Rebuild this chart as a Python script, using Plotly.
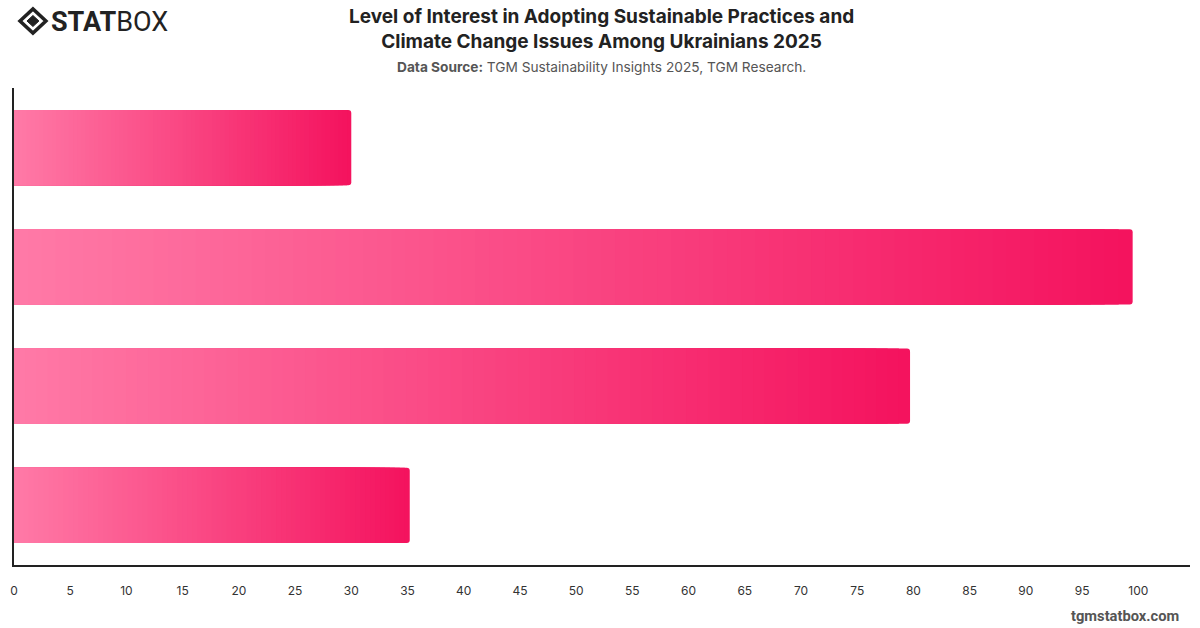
import plotly.graph_objects as go

categories = ["Category A", "Category B", "Category C", "Category D"]
values = [30.0, 99.5, 79.7, 35.2]
tick_vals = list(range(0, 101, 5))

title_line1 = "Level of Interest in Adopting Sustainable Practices and"
title_line2 = "Climate Change Issues Among Ukrainians 2025"
source_label = "Data Source:"
source_text = "TGM Sustainability Insights 2025, TGM Research."

color_left = (255, 122, 167)
color_right = (244, 18, 94)
N = 80

fig = go.Figure()
for k in range(N):
    frac = (N - k) / N
    t = (N - k - 0.5) / N
    c = tuple(round(color_left[i] + (color_right[i] - color_left[i]) * t) for i in range(3))
    fig.add_trace(go.Bar(
        y=categories,
        x=[v * frac for v in values],
        orientation="h",
        marker=dict(color="rgb(%d,%d,%d)" % c, line=dict(width=0),
                    cornerradius=3 if k == 0 else 0),
        width=0.63,
        hoverinfo="skip" if k > 0 else "x+y",
        showlegend=False,
    ))

L, R, T, B = 11, 10, 88, 63
W, H = 1200, 628
pw, ph = W - L - R, H - T - B

def px(x):
    return (x - L) / pw

def py(y):
    return 1 - (y - T) / ph

fig.update_layout(
    width=W, height=H,
    margin=dict(l=L, r=R, t=T, b=B),
    barmode="overlay",
    plot_bgcolor="white", paper_bgcolor="white",
    font=dict(family="Inter, Roboto, sans-serif", color="#333"),
    xaxis=dict(range=[0, 104.6], tickvals=tick_vals, showgrid=False, zeroline=False,
               showline=True, linecolor="#222", linewidth=1.5,
               tickfont=dict(size=12, color="#333"), ticklabelstandoff=14,
               fixedrange=True),
    yaxis=dict(autorange="reversed", showticklabels=False, showgrid=False, zeroline=False,
               showline=True, linecolor="#222", linewidth=1.5, fixedrange=True),
)

annotations = [
    dict(text="<b>" + title_line1 + "<br>" + title_line2 + "</b>", x=px(600), xref="paper",
         y=py(29), yref="paper", xanchor="center", yanchor="middle", showarrow=False,
         font=dict(size=19, color="#222", family="Inter, Roboto, sans-serif"), align="center"),
    dict(text="<b>" + source_label + "</b> " + source_text, x=px(600), xref="paper",
         y=py(67), yref="paper", xanchor="center", yanchor="middle", showarrow=False,
         font=dict(size=13.7, color="#555", family="Inter, Roboto, sans-serif")),
    dict(text="<b>tgmstatbox.com</b>", x=px(1181), xref="paper", y=py(616), yref="paper",
         xanchor="right", yanchor="middle", showarrow=False,
         font=dict(size=14.7, color="#555", family="Roboto, Inter, sans-serif")),
    dict(text="<b>STAT</b>BOX", x=px(46), xref="paper", y=py(22), yref="paper",
         xanchor="left", yanchor="middle", showarrow=False,
         font=dict(size=27, color="#222", family="Roboto, Inter, sans-serif")),
]
fig.update_layout(annotations=annotations)

# logo icon: diamond outline and inner diamond
cx, cy = 30, 21
def diamond(cx, cy, rx, ry):
    return "M %f %f L %f %f L %f %f L %f %f Z" % (
        px(cx - rx), py(cy), px(cx), py(cy - ry), px(cx + rx), py(cy), px(cx), py(cy + ry))
fig.add_shape(type="path", path=diamond(cx, cy, 13, 12), xref="paper", yref="paper",
              line=dict(color="#222", width=3.5), fillcolor="rgba(0,0,0,0)")
fig.add_shape(type="path", path=diamond(cx, cy, 6, 5.5), xref="paper", yref="paper",
              line=dict(color="#222", width=1), fillcolor="#222")

fig.write_html("out.html")
